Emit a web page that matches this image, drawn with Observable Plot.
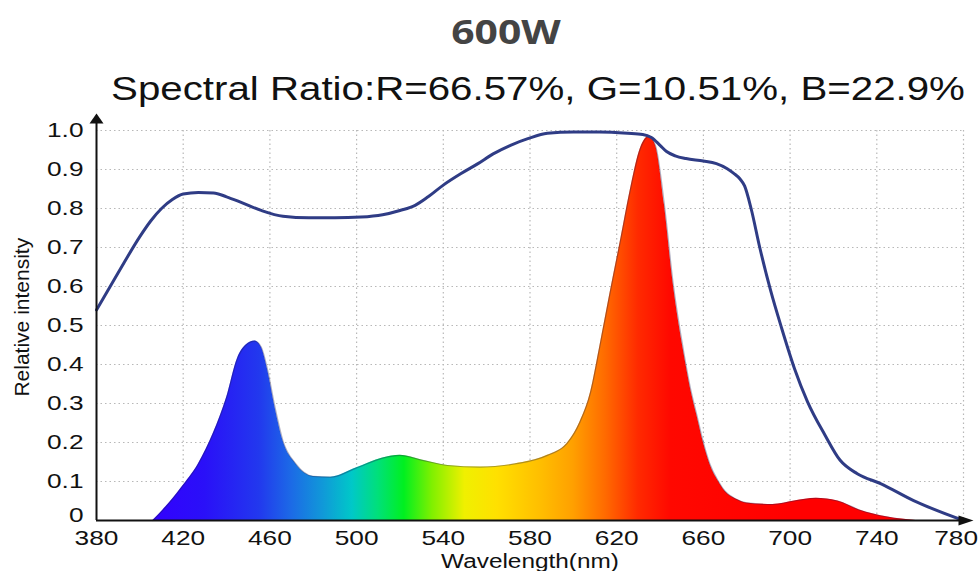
<!DOCTYPE html>
<html>
<head>
<meta charset="utf-8">
<script src="https://cdn.jsdelivr.net/npm/d3@7"></script>
<script src="https://cdn.jsdelivr.net/npm/@observablehq/plot@0.6"></script>
<style>
  html, body { margin: 0; background: #fff; }
  #chart { position: relative; width: 980px; height: 571px; overflow: hidden; }
  #head { position: relative; height: 105px; }
  .title {
    position: absolute; left: 506px; top: 14px;
    font: 700 34px/1 "Open Sans", sans-serif; color: #444;
    white-space: nowrap; transform: translateX(-50%) scaleX(1.2);
  }
  .subtitle {
    position: absolute; left: 537.5px; top: 72px;
    font: 400 33px/1 "Liberation Sans", Arial, sans-serif; color: #111;
    white-space: nowrap; transform: translateX(-50%) scaleX(1.22);
  }
  #plot svg { display: block; }
</style>
</head>
<body>
<div id="chart">
  <div id="head">
    <div class="title" id="title"></div>
    <div class="subtitle" id="subtitle"></div>
  </div>
  <div id="plot"></div>
</div>
<script>
// Headline and spectral ratio
const chartTitle = "600W";
const ratioBands = ["R", "G", "B"];
const ratioPercents = ["66.57", "10.51", "22.9"];

// Axes
const xLabel = "Wavelength(nm)";
const yLabel = "Relative intensity";
const xDomain = [380, 780];
const yDomain = [0, 1];
const xTicks = [380, 420, 460, 500, 540, 580, 620, 660, 700, 740, 780];
const yTicks = [0, 0.1, 0.2, 0.3, 0.4, 0.5, 0.6, 0.7, 0.8, 0.9, 1.0];
const yTickLabels = ["0", "0.1", "0.2", "0.3", "0.4", "0.5", "0.6", "0.7", "0.8", "0.9", "1.0"];

// LED emission spectrum: wavelength (nm) and relative intensity
const spectrumWavelength = [406, 412, 419, 427, 434, 440, 445, 449, 453, 456,
  459, 462, 466, 472, 480, 488, 500, 512, 520, 530,
  542, 557, 573, 588, 597, 603, 608, 612, 617, 622,
  626, 631, 635, 638, 642, 646, 651, 654, 657, 660,
  663, 667, 670, 675, 680, 692, 702, 712, 722, 732,
  745, 758];
const spectrumIntensity = [0, 0.035, 0.083, 0.145, 0.225, 0.315, 0.415, 0.45, 0.46, 0.445,
  0.385, 0.3, 0.205, 0.145, 0.113, 0.111, 0.135, 0.16, 0.167, 0.155,
  0.141, 0.137, 0.145, 0.167, 0.197, 0.252, 0.33, 0.44, 0.585, 0.725,
  0.84, 0.955, 0.985, 0.96, 0.81, 0.61, 0.43, 0.34, 0.27, 0.2,
  0.145, 0.1, 0.075, 0.055, 0.045, 0.041, 0.05, 0.057, 0.05, 0.027,
  0.009, 0];

// Envelope curve drawn over the spectrum
const envelopeWavelength = [380, 390, 400, 405, 410, 415, 420, 427, 434, 440,
  447, 456, 466, 478, 490, 502, 512, 520, 527, 533,
  540, 548, 556, 563, 571, 579, 588, 600, 612, 625,
  632, 636, 640, 643, 647, 652, 660, 666, 671, 674,
  677, 679, 682, 686, 691, 696, 702, 708, 716, 723,
  731, 742, 757, 780];
const envelopeIntensity = [0.54, 0.635, 0.728, 0.768, 0.8, 0.823, 0.837, 0.841, 0.84, 0.83,
  0.815, 0.795, 0.78, 0.776, 0.776, 0.778, 0.784, 0.795, 0.808, 0.83,
  0.86, 0.889, 0.915, 0.94, 0.962, 0.979, 0.993, 0.996, 0.996, 0.993,
  0.99, 0.982, 0.962, 0.946, 0.935, 0.928, 0.922, 0.915, 0.902, 0.89,
  0.875, 0.858, 0.8, 0.7, 0.59, 0.495, 0.39, 0.305, 0.22, 0.155,
  0.12, 0.094, 0.051, 0];

// Colour of light along the visible band, used to fill the spectrum
const bandWavelength = [405, 430, 455, 470, 485, 498, 510, 522, 535, 550, 565, 585, 600, 615, 630, 645, 700];
const bandColor = ["#3300ff", "#2a10f8", "#2238ee", "#1c6ae6", "#109ad8", "#00c8c8", "#00e07a", "#00f020",
  "#80f000", "#f0f000", "#ffe000", "#ffbe00", "#ffa000", "#ff6a00", "#ff2a00", "#ff0800", "#ff0000"];

const spectrum = spectrumWavelength.map((wl, i) => ({wl, v: spectrumIntensity[i]}));
const envelope = envelopeWavelength.map((wl, i) => ({wl, v: envelopeIntensity[i]}));

document.getElementById("title").textContent = chartTitle;
document.getElementById("subtitle").textContent =
  "Spectral Ratio:" + ratioBands.map((b, i) => `${b}=${ratioPercents[i]}%`).join(", ");

const ink = "#111";
const gridColor = "#b8b8b8";
const textStretch = 1.25;

// Filled arrowheads for the ends of the axes
const arrowUp = {draw(ctx) { ctx.moveTo(0, -17); ctx.lineTo(7, -7); ctx.lineTo(-7, -7); ctx.closePath(); }};
const arrowRight = {draw(ctx) { ctx.moveTo(10, 0); ctx.lineTo(-5, 5); ctx.lineTo(-5, -5); ctx.closePath(); }};

const plot = Plot.plot({
  width: 980,
  height: 466,
  marginLeft: 96,
  marginRight: 17,
  marginTop: 25,
  marginBottom: 51,
  style: {background: "#fff", fontFamily: '"Liberation Sans", Arial, sans-serif', fontSize: "21px", color: ink},
  x: {domain: xDomain, ticks: xTicks, tickSize: 0, tickPadding: 10, tickFormat: (d) => String(d), label: null},
  y: {domain: yDomain, ticks: yTicks, tickSize: 0, tickPadding: 13,
      tickFormat: (d) => yTickLabels[yTicks.indexOf(d)], label: null},
  marks: [
    Plot.ruleX(xTicks.slice(1), {stroke: gridColor, strokeWidth: 1.2, strokeDasharray: "1.5,3"}),
    Plot.ruleY(yTicks.slice(1), {stroke: gridColor, strokeWidth: 1.2, strokeDasharray: "1.5,3"}),
    Plot.areaY(spectrum, {x: "wl", y: "v", fill: "url(#spectrum-fill)", curve: "monotone-x"}),
    Plot.line(spectrum, {x: "wl", y: "v", stroke: "#1c1c50", strokeOpacity: 0.35, strokeWidth: 1.2, curve: "monotone-x"}),
    Plot.line(envelope, {x: "wl", y: "v", stroke: "#2f3c85", strokeWidth: 3, curve: "monotone-x"}),
    Plot.ruleY([yDomain[0]], {stroke: ink, strokeWidth: 2}),
    Plot.ruleX([xDomain[0]], {stroke: ink, strokeWidth: 2, insetTop: -8}),
    Plot.dot([[xDomain[0], yDomain[1]]], {symbol: arrowUp, fill: ink, stroke: "none", r: 5}),
    Plot.dot([[xDomain[1], yDomain[0]]], {symbol: arrowRight, fill: ink, stroke: "none", r: 5}),
    Plot.text([yLabel], {frameAnchor: "left", textAnchor: "middle", lineAnchor: "middle",
      text: (d) => d, rotate: -90, dx: -74.7, dy: -8.3, fontSize: 21, fill: ink}),
    Plot.text([xLabel], {frameAnchor: "bottom", textAnchor: "middle", lineAnchor: "middle",
      text: (d) => d, dy: 40.8, fontSize: 19.5, fill: ink})
  ]
});

// Horizontal gradient across the visible band, positioned with the x scale
const xs = plot.scale("x");
const w0 = bandWavelength[0], w1 = bandWavelength[bandWavelength.length - 1];
const grad = d3.select(plot).insert("defs", ":first-child")
  .append("linearGradient")
  .attr("id", "spectrum-fill")
  .attr("gradientUnits", "userSpaceOnUse")
  .attr("x1", xs.apply(w0)).attr("x2", xs.apply(w1))
  .attr("y1", 0).attr("y2", 0);
bandWavelength.forEach((wl, i) => {
  grad.append("stop").attr("offset", (wl - w0) / (w1 - w0)).attr("stop-color", bandColor[i]);
});

// Wide-set lettering for the horizontal labels; the zero label sits a little above the corner
d3.select(plot).selectAll("text").each(function () {
  if (this.textContent === yLabel) return;
  const x = +(this.getAttribute("x") || 0);
  const t = this.getAttribute("transform") || "";
  const lift = this.textContent === yTickLabels[0] ? " translate(0,-5)" : "";
  this.setAttribute("transform", `${t}${lift} translate(${x},0) scale(${textStretch},1) translate(${-x},0)`.trim());
});

document.getElementById("plot").appendChild(plot);

// Keep the widened labels inside the canvas
const svgBox = plot.getBoundingClientRect();
d3.select(plot).selectAll("text").each(function () {
  const b = this.getBoundingClientRect();
  const over = b.right - (svgBox.right - 2);
  if (over > 0) this.setAttribute("transform", `translate(${-over},0) ${this.getAttribute("transform") || ""}`.trim());
});
</script>
</body>
</html>
